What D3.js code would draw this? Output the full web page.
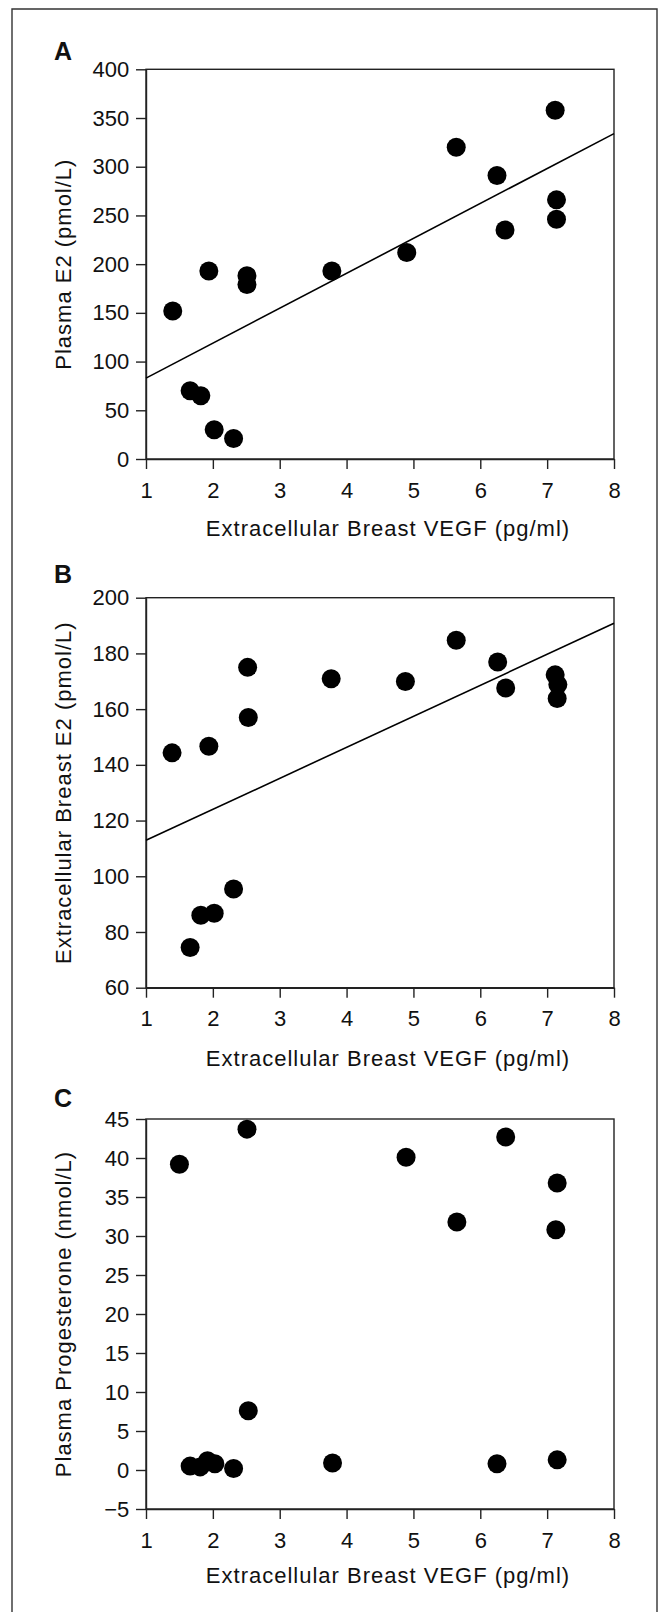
<!DOCTYPE html>
<html><head><meta charset="utf-8">
<script src="https://cdn.jsdelivr.net/npm/d3@7"></script>
<style>
html,body{margin:0;padding:0;background:#fff;}
svg{display:block;}
text{font-family:"Liberation Sans",Arial,Helvetica,sans-serif;fill:#111;}
</style></head>
<body>
<svg id="chart" width="660" height="1612"></svg>
<script>
// ---- data ----
const xTicks = [1, 2, 3, 4, 5, 6, 7, 8];
const xTitle = "Extracellular Breast VEGF (pg/ml)";

const panelLetters = ["A", "B", "C"];
const yTitles = ["Plasma E2 (pmol/L)", "Extracellular Breast E2 (pmol/L)", "Plasma Progesterone (nmol/L)"];
const yDomains = [[0, 400], [60, 200], [-5, 45]];
const yTicksA = [0, 50, 100, 150, 200, 250, 300, 350, 400];
const yTicksB = [60, 80, 100, 120, 140, 160, 180, 200];
const yTicksC = [-5, 0, 5, 10, 15, 20, 25, 30, 35, 40, 45];

const vegfA = [1.40, 1.66, 1.82, 1.94, 2.02, 2.31, 2.51, 2.51, 3.78, 4.90, 5.64, 6.25, 6.37, 7.12, 7.14, 7.14];
const plasmaE2 = [152, 70, 65, 193, 30, 21, 188, 179, 193, 212, 320, 291, 235, 358, 266, 246];
const fitA = [[1, 83], [8, 334]];

const vegfB = [1.39, 1.94, 2.52, 2.53, 3.77, 4.88, 5.64, 6.26, 6.38, 7.12, 7.16, 7.15, 1.66, 1.82, 2.02, 2.31];
const breastE2 = [144.3, 146.7, 175, 157, 170.9, 169.9, 184.7, 176.9, 167.6, 172.3, 168.8, 163.8, 74.4, 86, 86.7, 95.4];
const fitB = [[1, 112.9], [8, 190.8]];

const vegfC = [1.50, 2.51, 4.89, 5.65, 6.38, 7.15, 7.13, 2.53, 1.66, 1.81, 1.92, 2.03, 2.31, 3.79, 6.25, 7.15];
const progesterone = [39.2, 43.7, 40.1, 31.8, 42.7, 36.8, 30.8, 7.6, 0.5, 0.4, 1.2, 0.8, 0.2, 0.9, 0.8, 1.3];

// ---- layout ----
const svg = d3.select("#chart");
const left = 146, right = 614;
const panels = [
  {top: 69.3, bottom: 459, xs: vegfA, ys: plasmaE2, fit: fitA, ticks: yTicksA, titleOff: 77, letterY: 60},
  {top: 597.7, bottom: 987.7, xs: vegfB, ys: breastE2, fit: fitB, ticks: yTicksB, titleOff: 78, letterY: 583},
  {top: 1119, bottom: 1509, xs: vegfC, ys: progesterone, fit: null, ticks: yTicksC, titleOff: 74, letterY: 1107}
];

// outer frame (open at bottom)
svg.append("path")
  .attr("d", "M12,1612 L12,9 L657,9 L657,1612")
  .attr("fill", "none").attr("stroke", "#333").attr("stroke-width", 1.4);

const x = d3.scaleLinear().domain([1, 8]).range([left, right]);

panels.forEach((p, i) => {
  const y = d3.scaleLinear().domain(yDomains[i]).range([p.bottom, p.top]);
  const g = svg.append("g");

  // plot box
  g.append("rect")
    .attr("x", left).attr("y", p.top)
    .attr("width", right - left).attr("height", p.bottom - p.top)
    .attr("fill", "none").attr("stroke", "#222").attr("stroke-width", 1.4);

  const ya = g.append("g").attr("transform", `translate(${left},0)`)
    .call(d3.axisLeft(y).tickValues(p.ticks).tickSize(10).tickSizeOuter(0).tickPadding(6.7).tickFormat(d3.format("d")));
  const xa = g.append("g").attr("transform", `translate(0,${p.bottom})`)
    .call(d3.axisBottom(x).tickValues(xTicks).tickSize(10).tickSizeOuter(0).tickPadding(13).tickFormat(d3.format("d")));
  [ya, xa].forEach(a => {
    a.select(".domain").attr("stroke", "#222").attr("stroke-width", 1.4);
    a.selectAll(".tick line").attr("stroke", "#222").attr("stroke-width", 1.4);
    a.selectAll(".tick text").attr("font-size", 22).attr("fill", "#111")
      .style("font-family", '"Liberation Sans",Arial,sans-serif');
  });

  // regression line
  if (p.fit) {
    g.append("line")
      .attr("x1", x(p.fit[0][0])).attr("y1", y(p.fit[0][1]))
      .attr("x2", x(p.fit[1][0])).attr("y2", y(p.fit[1][1]))
      .attr("stroke", "#000").attr("stroke-width", 1.6);
  }

  // points
  g.selectAll("circle.pt").data(p.xs.map((v, k) => [v, p.ys[k]])).join("circle")
    .attr("class", "pt")
    .attr("cx", d => x(d[0])).attr("cy", d => y(d[1]))
    .attr("r", 9.5).attr("fill", "#000");

  // axis titles
  g.append("text")
    .attr("x", 388).attr("y", p.bottom + p.titleOff)
    .attr("text-anchor", "middle").attr("font-size", 22)
    .style("letter-spacing", "1px")
    .text(xTitle);
  g.append("text")
    .attr("transform", `translate(71,${(p.top + p.bottom) / 2}) rotate(-90)`)
    .attr("text-anchor", "middle").attr("font-size", 22)
    .style("letter-spacing", "1px")
    .text(yTitles[i]);

  // panel letter
  g.append("text")
    .attr("x", 54).attr("y", p.letterY)
    .attr("font-size", 25).attr("font-weight", "bold")
    .text(panelLetters[i]);
});
</script>
</body></html>
